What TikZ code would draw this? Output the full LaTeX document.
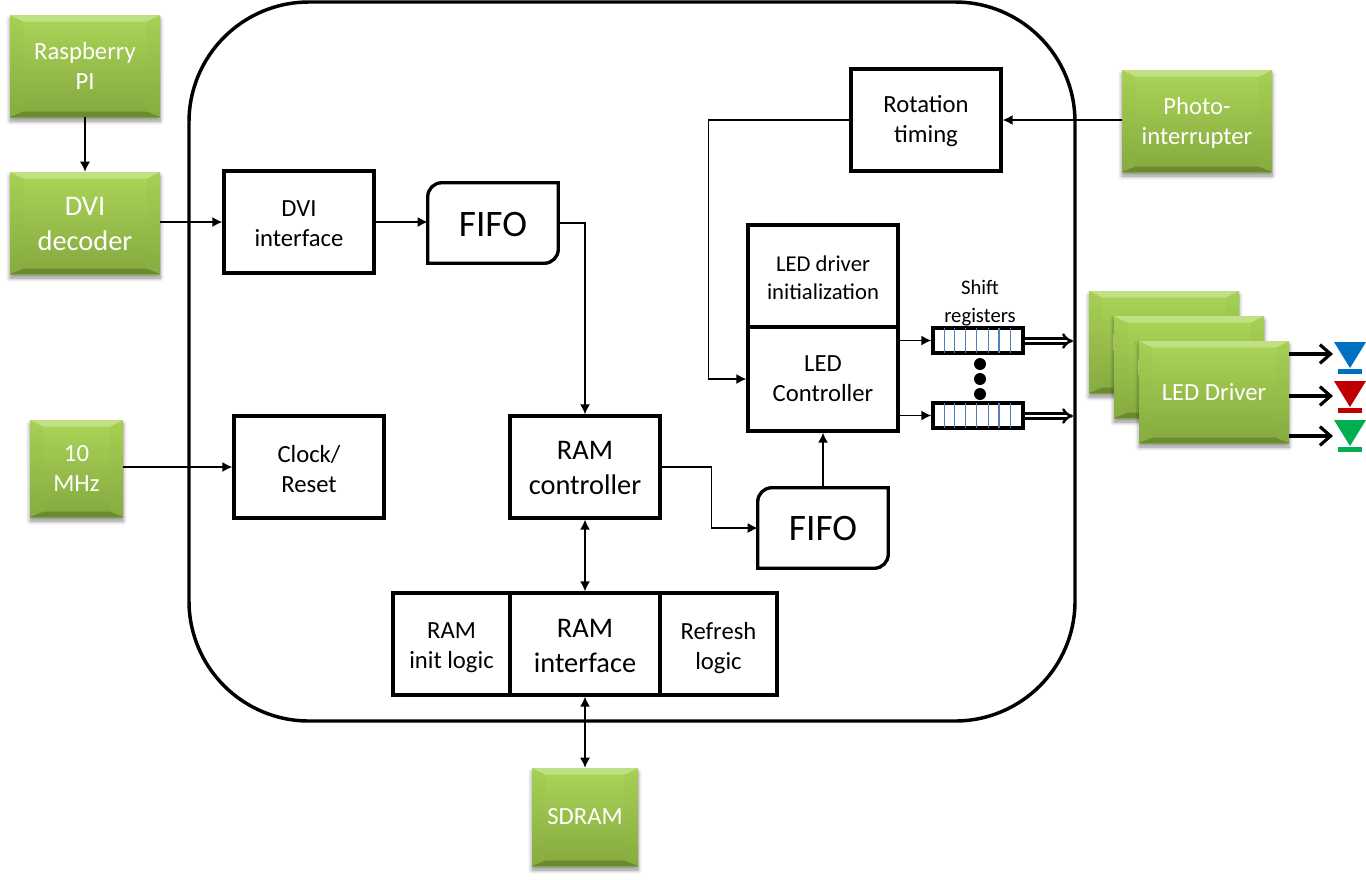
\documentclass[tikz,border=0pt]{standalone}
\usepackage{fontspec}
\setmainfont{Carlito}
\usetikzlibrary{arrows.meta,calc,shadows.blur}
\newcommand{\fpx}[2]{\fontsize{#1}{#2}\selectfont}
\newcommand{\tp}[1]{\rule{0pt}{#1pt}}
\definecolor{gtop}{HTML}{ABD558}
\definecolor{gbot}{HTML}{84A83F}
\definecolor{glight}{HTML}{CBE698}
\definecolor{gdark}{HTML}{5F7A2C}
\definecolor{gside}{HTML}{94BB45}
\definecolor{srblue}{HTML}{4F81BD}
\definecolor{ledb}{HTML}{0070C0}
\definecolor{ledr}{HTML}{C00000}
\definecolor{ledg}{HTML}{00B050}
\tikzset{
  x=0.75pt,y=-0.75pt,
  gbox/.style={rectangle,inner sep=0pt,align=center,text=white,top color=gtop,bottom color=gbot,
    minimum width=#1*0.75pt,
    blur shadow={shadow xshift=0pt,shadow yshift=-3pt,shadow blur steps=6,shadow opacity=45,shadow blur radius=3pt},
    path picture={
      \coordinate (nw) at (path picture bounding box.north west);
      \coordinate (ne) at (path picture bounding box.north east);
      \coordinate (sw) at (path picture bounding box.south west);
      \coordinate (se) at (path picture bounding box.south east);
      \fill[glight,opacity=.7] (nw)--(ne)--++(-10pt,-5pt)--($(nw)+(10pt,-5pt)$)--cycle;
      \fill[gside,opacity=.18] (nw)--(sw)--++(10pt,4pt)--($(nw)+(10pt,-5pt)$)--cycle;
      \fill[gside,opacity=.18] (ne)--(se)--++(-10pt,4pt)--($(ne)+(-10pt,-5pt)$)--cycle;
      \fill[gdark,opacity=.65] (sw)--(se)--++(-10pt,4pt)--($(sw)+(10pt,4pt)$)--cycle;
    }},
  wbox/.style={rectangle,draw=black,line width=2.5pt,fill=white,inner sep=0pt,align=center,text=black,
    minimum width=#1*0.75pt},
  conn/.style={draw=black,line width=1.1pt,-{Latex[length=7.5pt,width=7.5pt]}},
  biconn/.style={draw=black,line width=1.1pt,{Latex[length=7.5pt,width=7.5pt]}-{Latex[length=7.5pt,width=7.5pt]}},
  outarrow/.style={draw=black,line width=3pt,-{Straight Barb[length=8pt,width=14pt,line width=2.4pt]}},
  hollow/.style={draw=black,line width=1.9pt,double=white,double distance=1.8pt,-{Implies}},
  tall/.style={minimum height=#1*0.75pt},
  srbox/.style={rectangle,draw=black,line width=2.5pt,fill=white,inner sep=0pt,minimum width=67.5pt,minimum height=18.75pt},
  srline/.style={draw=srblue,line width=0.9pt},
  dotn/.style={circle,fill=black,inner sep=0pt,minimum size=9pt},
  fifoshape/.style={line width=2.5pt,fill=white},
  tsmall/.style={font=\fpx{18.5}{22.5}},
  tmid/.style={font=\fpx{21.3}{26}},
  tnarrow/.style={font=\fpx{17}{21}},
  tfifo/.style={font=\fpx{28}{30}},
}
\begin{document}
\begin{tikzpicture}
\useasboundingbox (0,0) rectangle (1366,879);
% main rounded frame
\draw[line width=2.6pt,rounded corners=90pt] (189,2) rectangle (1075,721);

% green external blocks
\node[gbox=150,tall=102,tsmall] (rpi) at (85,66) {Raspberry\\PI};
\node[gbox=150,tall=102,tmid] (dec) at (85,223) {\tp{15.2}DVI\\decoder};
\node[gbox=93,tall=97,tsmall] (mhz) at (76.5,468.5) {10\\MHz};
\node[gbox=106,tall=98,tsmall] (sdram) at (585,817) {SDRAM};
\node[gbox=150,tall=102,tsmall] (photo) at (1197,121) {\tp{15}Photo-\\interrupter};
\node[gbox=150,tall=102,tsmall] (drvA) at (1164,342) {LED Driver};
\node[gbox=150,tall=102,tsmall] (drvB) at (1189,367) {LED Driver};
\node[gbox=150,tall=102,tsmall] (drvC) at (1214,392) {LED Driver};

% white blocks
\node[wbox=150,tall=102,tsmall] (dvi) at (299,222) {\tp{14.9}DVI\\interface};
\node[wbox=150,tall=102,tsmall] (clk) at (309,467) {\tp{16.5}Clock/\\Reset};
\node[wbox=150,tall=102,tmid] (ramc) at (585,467) {\tp{15.2}RAM\\controller};
\node[wbox=150,tall=102,tsmall] (rot) at (926,120) {\tp{15}Rotation\\timing};
\node[wbox=150,tall=102,tnarrow] (ledi) at (823,276) {\tp{14}LED driver\\initialization};
\node[wbox=150,tall=104,tsmall] (ledc) at (823,379) {LED\\Controller};
\node[wbox=117,tall=102,tsmall] (rami) at (451.5,644) {\tp{17}RAM\\init logic};
\node[wbox=150,tall=102,tmid] (ramif) at (585,644) {\tp{16.7}RAM\\interface};
\node[wbox=117,tall=102,tsmall] (refr) at (718.5,644) {\tp{19}Refresh\\logic};

% FIFOs: top-left and bottom-right corners rounded
\node[minimum width=97.5pt,minimum height=60pt,inner sep=0pt] (fifoA) at (493,223) {};
\draw[fifoshape]
  ($(fifoA.north west)+(0,14)$) arc[start angle=180,end angle=90,radius=10.5pt] -- (fifoA.north east)
  -- ($(fifoA.south east)+(0,-14)$) arc[start angle=0,end angle=-90,radius=10.5pt] -- (fifoA.south west) -- cycle;
\node[tfifo] (fifoAt) at ($(fifoA)+(0,2)$) {FIFO};
\node[minimum width=97.5pt,minimum height=60pt,inner sep=0pt] (fifoB) at (823,528) {};
\draw[fifoshape]
  ($(fifoB.north west)+(0,14)$) arc[start angle=180,end angle=90,radius=10.5pt] -- (fifoB.north east)
  -- ($(fifoB.south east)+(0,-14)$) arc[start angle=0,end angle=-90,radius=10.5pt] -- (fifoB.south west) -- cycle;
\node[tfifo] (fifoBt) at ($(fifoB)+(0,1)$) {FIFO};

% shift registers
\node[srbox] (srA) at (978,340.5) {};
\node[srbox] (srB) at (978,415.5) {};
\foreach \n in {srA,srB}
  \foreach \dx in {-33.7,-23.7,-12.3,-1.3,10.3,21,32.7}
    \draw[srline] ($(\n.north)+(\dx,2)$) -- ($(\n.south)+(\dx,-2)$);
\node[align=center,inner sep=0pt,font=\fpx{15.5}{21}] (srlab) at (980,303) {Shift\\registers};
\node[dotn] (d1) at (980,364) {};
\node[dotn] (d2) at (980,379) {};
\node[dotn] (d3) at (980,394) {};

% LEDs
\coordinate (la) at (1350,342);
\coordinate (lb) at (1350,381);
\coordinate (lc) at (1350,420);
\foreach \p/\c in {la/ledb,lb/ledr,lc/ledg}{
  \fill[\c] ($(\p)+(-16,0)$) -- ($(\p)+(16,0)$) -- ($(\p)+(0,26)$) -- cycle;
  \fill[\c] ($(\p)+(-12,27)$) rectangle ($(\p)+(12,32)$);
}

% connectors
\draw[conn] (rpi) -- (dec);
\draw[conn] (dec.east |- dvi.west) -- (dvi.west);
\draw[conn] (dvi.east) -- (dvi.east -| fifoA.west);
\draw[conn] (fifoA.east) -| (ramc.north);
\draw[conn] (mhz.east |- clk.west) -- (clk.west);
\draw[conn] (ramc.east) -- ++(50,0) |- (fifoB.west);
\draw[conn] (fifoB.north) -- (ledc.south);
\draw[biconn] (ramc.south) -- (ramif.north);
\draw[biconn] (ramif.south) -- (sdram.north);
\draw[conn] (photo.west |- rot.east) -- (rot.east);
\draw[conn] (rot.west) -- ++(-141,0) |- (ledc.west);
\draw[conn] (ledc.east |- srA.west) -- (srA.west);
\draw[conn] (ledc.east |- srB.west) -- (srB.west);
\coordinate (ha) at (1073,341);
\coordinate (hb) at (1073,416);
\draw[hollow] (srA.east |- ha) -- (ha);
\draw[hollow] (srB.east |- hb) -- (hb);
\coordinate (oa) at (1333,354);
\coordinate (ob) at (1333,396);
\coordinate (oc) at (1333,436);
\draw[outarrow] (drvC.east |- oa) -- (oa);
\draw[outarrow] (drvC.east |- ob) -- (ob);
\draw[outarrow] (drvC.east |- oc) -- (oc);
\end{tikzpicture}
\end{document}
